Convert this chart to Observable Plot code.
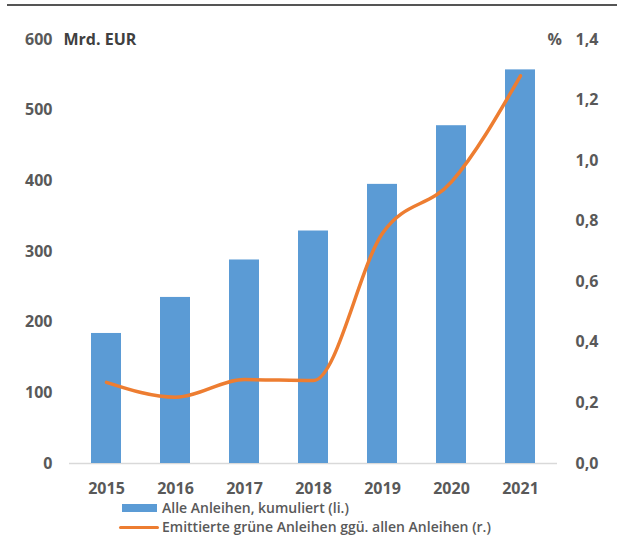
<!DOCTYPE html>
<html>
<head>
<meta charset="utf-8">
<script src="https://cdn.jsdelivr.net/npm/d3@7"></script>
<script src="https://cdn.jsdelivr.net/npm/@observablehq/plot@0.6"></script>
<style>
  html, body { margin: 0; padding: 0; background: #fff; }
  #wrap { position: relative; width: 617px; height: 535px; overflow: hidden; font-family: "Open Sans", sans-serif; }
  #topline { position: absolute; left: 7px; top: 4px; width: 610px; height: 2px; background: #555; }
  #chart { position: absolute; left: 0; top: 0; }
  .leg { position: absolute; left: 119px; height: 16px; line-height: 16px; display: flex; align-items: center; font-size: 14px; font-weight: 600; color: #595959; white-space: nowrap; }
  .sw-bar { width: 35px; height: 8px; background: #5B9BD5; margin-left: 3px; margin-right: 5px; }
  .sw-line { width: 40px; height: 3px; background: #ED7D31; margin-right: 3px; border-radius: 2px; }
</style>
</head>
<body>
<div id="wrap">
  <div id="chart"></div>
  <div id="topline"></div>
  <div class="leg" style="top:500px"><span class="sw-bar"></span><span id="leg1"></span></div>
  <div class="leg" style="top:519px"><span class="sw-line"></span><span id="leg2"></span></div>
</div>
<script>
const years = ["2015", "2016", "2017", "2018", "2019", "2020", "2021"];
const bondsTotal = [184, 235, 288, 329, 395, 478, 557];          // Mrd. EUR (left axis)
const greenShare = [0.268, 0.219, 0.277, 0.274, 0.76, 0.93, 1.28]; // % (right axis)
const leftTicks = [0, 100, 200, 300, 400, 500, 600];
const rightTicks = [0, 0.2, 0.4, 0.6, 0.8, 1.0, 1.2, 1.4];
const leftUnit = "Mrd. EUR";
const rightUnit = "%";
const seriesNames = ["Alle Anleihen, kumuliert (li.)", "Emittierte grüne Anleihen ggü. allen Anleihen (r.)"];

const leftMax = leftTicks[leftTicks.length - 1];
const rightMax = rightTicks[rightTicks.length - 1];
const ratio = leftMax / rightMax;

const data = years.map((year, i) => ({year, total: bondsTotal[i], share: greenShare[i], shareScaled: greenShare[i] * ratio}));

const fmtDe = (v) => v.toFixed(1).replace(".", ",");

const chart = Plot.plot({
  width: 617,
  height: 500,
  marginLeft: 69,
  marginRight: 60,
  marginTop: 39,
  marginBottom: 37,
  style: {fontFamily: "Open Sans, sans-serif", fontSize: "16px", fontWeight: 700, color: "#595959", background: "transparent"},
  x: {domain: years, paddingInner: 0.57, paddingOuter: 0.285, axis: null},
  y: {domain: [0, leftMax], axis: null},
  marks: [
    Plot.ruleY([0], {stroke: "#d9d9d9", strokeWidth: 1.5}),
    Plot.barY(data, {x: "year", y: "total", fill: "#5B9BD5"}),
    Plot.line(data, {x: "year", y: "shareScaled", stroke: "#ED7D31", strokeWidth: 3.5, curve: "monotone-x", strokeLinejoin: "round", strokeLinecap: "round"}),
    Plot.axisX({tickSize: 0, tickPadding: 19, label: null}),
    Plot.axisY(leftTicks, {anchor: "left", tickSize: 0, tickPadding: 17, label: null}),
    Plot.axisY(rightTicks.map(v => v * ratio), {anchor: "right", tickSize: 0, tickPadding: 18, label: null, tickFormat: (d) => fmtDe(d / ratio)}),
    Plot.text([leftUnit], {frameAnchor: "top-left", textAnchor: "start", lineAnchor: "middle", dx: -6, fill: "#404040"}),
    Plot.text([rightUnit], {frameAnchor: "top-right", textAnchor: "start", lineAnchor: "middle", dx: -10, fill: "#595959"})
  ]
});
document.getElementById("chart").appendChild(chart);
document.getElementById("leg1").textContent = seriesNames[0];
document.getElementById("leg2").textContent = seriesNames[1];
</script>
</body>
</html>
